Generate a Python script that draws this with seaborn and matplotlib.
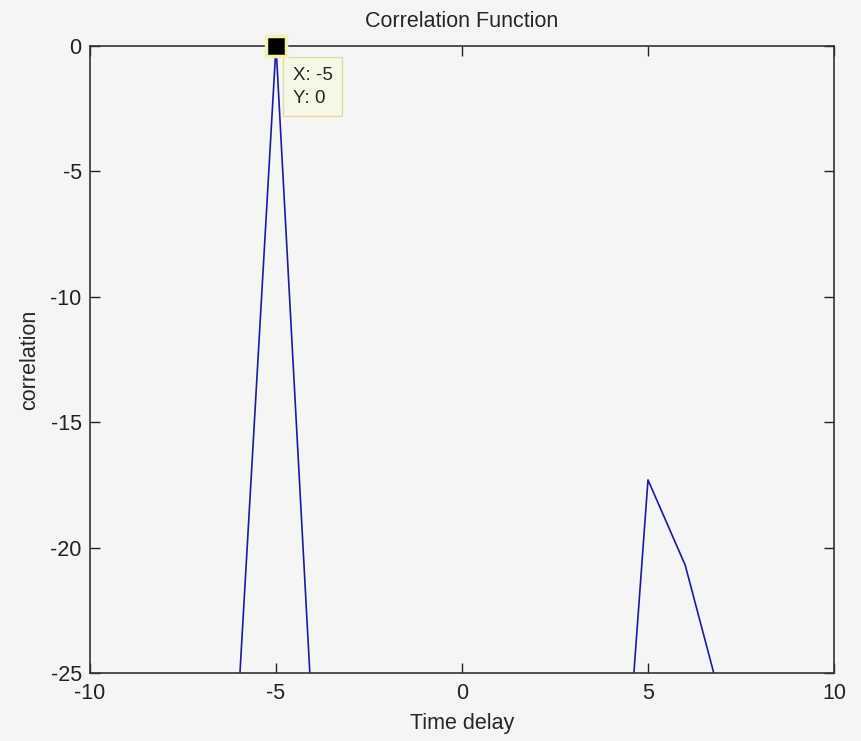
import numpy as np
import pandas as pd
import seaborn as sns
import matplotlib
matplotlib.use('Agg')
import matplotlib.pyplot as plt

# values (integer lags)
lag = [-7, -6, -5, -4, -3, 3, 4, 5, 6, 7, 8]
corr = [-60.0, -25.8, 0.0, -27.5, -60.0, -60.0, -37.6, -17.3, -20.7, -26.3, -40.0]
seg = ['a', 'a', 'a', 'a', 'a', 'b', 'b', 'b', 'b', 'b', 'b']

tip_x, tip_y = -5, 0

df = pd.DataFrame({'Time delay': lag, 'correlation': corr, 'seg': seg})

sns.set_theme(style='white')
plt.rcParams['font.family'] = ['Liberation Sans', 'DejaVu Sans']
plt.rcParams['axes.unicode_minus'] = False
plt.rcParams['axes.facecolor'] = '#f5f5f5'
plt.rcParams['figure.facecolor'] = '#f5f5f5'

fig = plt.figure(figsize=(8.62, 7.41), dpi=100)
ax = fig.add_axes([90 / 862, 1 - 673 / 741, 744 / 862, 627 / 741])

sns.lineplot(data=df, x='Time delay', y='correlation', units='seg', estimator=None,
             color='#1a1aa6', lw=1.2, ax=ax, legend=False)

fs = 15.5
ax.set_xlim(-10, 10)
ax.set_ylim(-25, 0)
ax.set_xticks([-10, -5, 0, 5, 10])
ax.set_yticks([-25, -20, -15, -10, -5, 0])
ax.tick_params(direction='in', length=7, width=1, colors='#222222', labelsize=fs,
               top=True, right=True, bottom=True, left=True)
ax.tick_params(axis='x', pad=7)
ax.tick_params(axis='y', pad=6)
for s in ax.spines.values():
    s.set_color('#333333')
    s.set_linewidth(1.2)
ax.set_xlabel('Time delay', fontsize=fs, labelpad=7)
ax.set_ylabel('correlation', fontsize=fs, labelpad=7)
ax.set_title('Correlation Function', fontsize=fs, pad=14)

# data tip
ax.plot([tip_x], [tip_y], marker='s', ms=14, color='black', mec='#f3f0b0', mew=2.5,
        clip_on=False, zorder=5)
ax.annotate('X: -5\nY: 0', xy=(tip_x, tip_y), xytext=(12, -15), textcoords='offset points',
            ha='left', va='top', fontsize=13.5, linespacing=1.45,
            bbox=dict(boxstyle='square,pad=0.5', fc='#f7f7e6', ec='#e0dca0', lw=1))

plt.savefig('out.png', dpi=100, facecolor=fig.get_facecolor())
